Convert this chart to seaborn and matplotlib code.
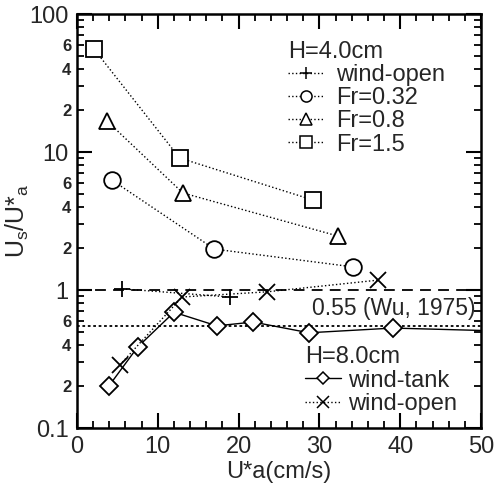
import numpy as np
import pandas as pd
import matplotlib
matplotlib.use("Agg")
import matplotlib.pyplot as plt
import matplotlib.ticker as mticker
from matplotlib.lines import Line2D
import seaborn as sns

# ---- data ----
u_fr15 = [2.1, 12.7, 29.2]
us_fr15 = [55.7, 9.05, 4.49]
u_fr08 = [3.7, 13.1, 32.3]
us_fr08 = [16.8, 5.05, 2.46]
u_fr032 = [4.3, 17.0, 34.2]
us_fr032 = [6.27, 1.98, 1.47]
u_open4 = [5.6, 18.9]
us_open4 = [1.02, 0.89]
u_tank8 = [3.9, 7.5, 12.0, 17.3, 21.8, 28.7, 39.1, 55.0]
us_tank8 = [0.20, 0.386, 0.69, 0.55, 0.586, 0.49, 0.53, 0.50]
u_open8 = [5.3, 13.0, 23.5, 37.3]
us_open8 = [0.286, 0.89, 0.97, 1.18]
ref_one = 1.0
ref_wu = 0.55
ref_label = "0.55 (Wu, 1975)"
xticks = [0, 10, 20, 30, 40, 50]

sns.set_theme(style="ticks")
plt.rcParams["font.family"] = ["Liberation Sans", "DejaVu Sans"]
plt.rcParams["mathtext.fontset"] = "custom"
plt.rcParams["mathtext.rm"] = "Liberation Sans"

fig = plt.figure(figsize=(4.95, 4.90), dpi=100)
ax = fig.add_axes([0.1556, 0.1265, 0.8161, 0.8449])

def series(x, y, marker, ls, ms, dashes=None, lw=1.0):
    df = pd.DataFrame({"x": x, "y": y})
    kw = dict(marker=marker, markersize=ms, markerfacecolor="white",
              markeredgecolor="black", markeredgewidth=1.3,
              color="black", linewidth=lw, linestyle=ls)
    if dashes is not None:
        kw["dashes"] = dashes
    sns.lineplot(data=df, x="x", y="y", sort=False, estimator=None, ax=ax,
                 legend=False, **kw)

dot = (1, 1.5)
series(u_fr15, us_fr15, "s", ":", 12, dashes=dot)
series(u_fr08, us_fr08, "^", ":", 11, dashes=dot)
series(u_fr032, us_fr032, "o", ":", 12, dashes=dot)
series(u_open4, us_open4, "+", ":", 12, dashes=dot)
series(u_tank8, us_tank8, "D", "-", 9.5)
series(u_open8, us_open8, "x", ":", 12, dashes=dot)

ax.axhline(ref_one, color="black", lw=1.3, ls="--", dashes=(6, 4), zorder=1)
ax.axhline(ref_wu, color="black", lw=1.3, ls=":", dashes=(1.5, 1.5), zorder=1)
ax.text(29.1, 0.74, ref_label, fontsize=16.5, va="center", ha="left")

ax.set_yscale("log")
ax.set_xlim(0, 50)
ax.set_ylim(0.1, 100)
ax.set_xticks(xticks)
ax.xaxis.set_minor_locator(mticker.MultipleLocator(2))
ax.yaxis.set_major_locator(mticker.FixedLocator([0.1, 1, 10, 100]))
ax.yaxis.set_major_formatter(mticker.FuncFormatter(lambda v, p: f"{v:g}"))
ax.yaxis.set_minor_locator(mticker.LogLocator(base=10, subs=np.arange(2, 10)))

def minor_fmt(v, p):
    m = v / 10 ** np.floor(np.log10(v) + 1e-9)
    mr = int(round(m))
    return str(mr) if mr in (2, 4, 6) and abs(m - mr) < 1e-6 else ""
ax.yaxis.set_minor_formatter(mticker.FuncFormatter(minor_fmt))

ax.tick_params(which="both", direction="in", top=True, right=True, color="black")
ax.tick_params(which="major", length=11, width=1.5, labelsize=17, pad=6)
ax.tick_params(which="minor", length=5, width=1.3)
ax.tick_params(axis="y", which="minor", labelsize=12, pad=4)
for s in ax.spines.values():
    s.set_linewidth(1.8)
    s.set_color("black")

ax.set_xlabel("U*a(cm/s)", fontsize=17, labelpad=2)
ax.set_ylabel(r"U$_\mathregular{s}$/U*$_\mathregular{a}$", fontsize=18)
ax.yaxis.set_label_coords(-0.114, 0.5)

def h(marker, ls, ms):
    return Line2D([], [], color="black", marker=marker, markersize=ms, lw=1.0,
                  linestyle=ls, markerfacecolor="white", markeredgecolor="black",
                  markeredgewidth=1.1)

leg1 = ax.legend([h("+", ":", 9), h("o", ":", 8), h("^", ":", 8), h("s", ":", 8)],
                 ["wind-open", "Fr=0.32", "Fr=0.8", "Fr=1.5"],
                 title="H=4.0cm", loc="upper left", bbox_to_anchor=(0.522, 0.935),
                 frameon=False, fontsize=17, title_fontsize=17, alignment="left",
                 handlelength=1.5, handletextpad=0.55, labelspacing=0.05,
                 borderpad=0, borderaxespad=0)
ax.add_artist(leg1)
leg2 = ax.legend([h("D", "-", 6.5), h("x", ":", 8)],
                 ["wind-tank", "wind-open"],
                 title="H=8.0cm", loc="upper left", bbox_to_anchor=(0.565, 0.197),
                 frameon=False, fontsize=17, title_fontsize=17, alignment="left",
                 handlelength=1.5, handletextpad=0.3, labelspacing=0.05,
                 borderpad=0, borderaxespad=0)

fig.canvas.draw()
for lab in ax.yaxis.get_minorticklabels():
    lab.set_fontweight("bold")

fig.savefig("out.png", dpi=100)
